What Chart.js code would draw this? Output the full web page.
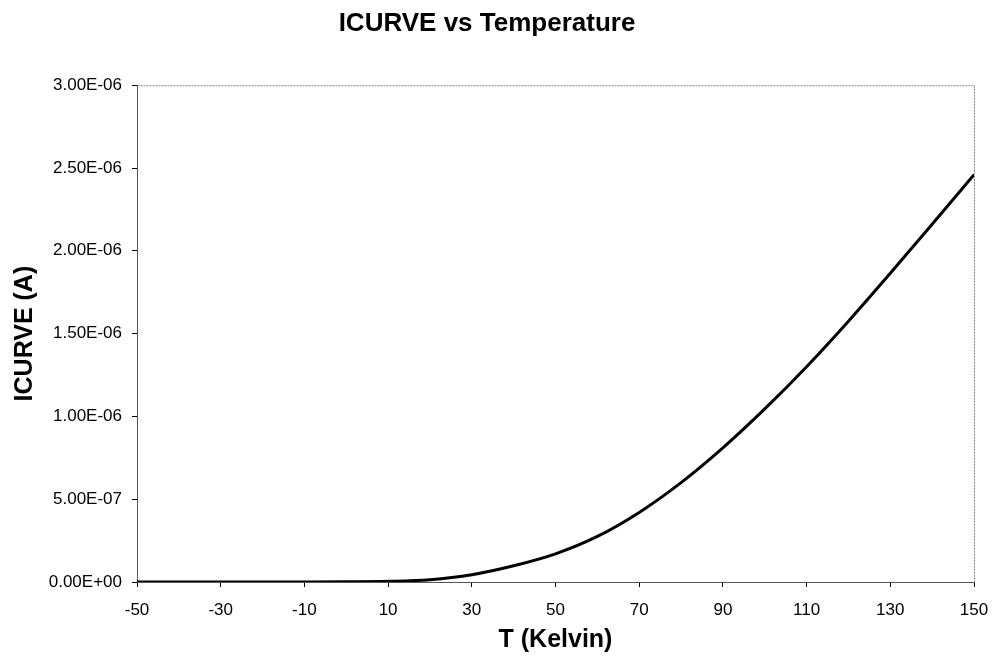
<!DOCTYPE html>
<html>
<head>
<meta charset="utf-8">
<script src="https://cdn.jsdelivr.net/npm/chart.js@4/dist/chart.umd.min.js"></script>
<style>
	html, body { margin: 0; padding: 0; background: #fff; }
	#wrap { width: 997px; height: 663px; }
</style>
</head>
<body>
<div id="wrap"><canvas id="icurveChart"></canvas></div>
<script>
	// temperature (K) and curve current (A)
	var temps = [-50, -40, -30, -20, -10, 0, 10, 20, 30, 40, 50, 60, 70, 80, 90, 100, 110, 120, 130, 140, 150];
	var icurve = [0, 0, 0, 0, 0, 1e-9, 4e-9, 1.4e-8, 4.4e-8, 9.8e-8, 1.7e-7, 2.75e-7, 4.2e-7, 6e-7,
		8.1e-7, 1.045e-6, 1.3e-6, 1.575e-6, 1.865e-6, 2.16e-6, 2.46e-6];

	var xTicks = [-50, -30, -10, 10, 30, 50, 70, 90, 110, 130, 150];
	var yTicks = [0, 5e-7, 1e-6, 1.5e-6, 2e-6, 2.5e-6, 3e-6];

	var points = [];
	for (var i = 0; i < temps.length; i++) {
		points.push({x: temps[i], y: icurve[i]});
	}

	// 3.00E-06 style labels
	function sci(v) {
		var parts = Number(v).toExponential(2).split('e');
		var exp = parseInt(parts[1], 10);
		var sign = exp < 0 ? '-' : '+';
		var digits = String(Math.abs(exp));
		if (digits.length < 2) digits = '0' + digits;
		return parts[0] + 'E' + sign + digits;
	}

	// dotted grey frame round the plot area
	var frame = {
		id: 'frame',
		afterDraw: function(chart) {
			var a = chart.chartArea;
			var c = chart.ctx;
			c.save();
			c.strokeStyle = '#808080';
			c.lineWidth = 1;
			c.setLineDash([2, 1]);
			c.beginPath();
			c.moveTo(a.left + 0.5, a.top + 0.5);
			c.lineTo(a.right + 0.5, a.top + 0.5);
			c.lineTo(a.right + 0.5, a.bottom + 0.5);
			c.stroke();
			c.restore();
		}
	};

	var font = 'Liberation Sans, Arial, sans-serif';

	var ctx = document.getElementById('icurveChart');
	var config = {
		type: 'line',
		data: {
			datasets: [{
				label: 'ICURVE',
				data: points,
				borderColor: '#000',
				borderWidth: 3,
				pointRadius: 0,
				fill: false,
				cubicInterpolationMode: 'monotone'
			}]
		},
		options: {
			responsive: true,
			maintainAspectRatio: false,
			animation: false,
			layout: { padding: { left: 0, right: 23, top: 0, bottom: 0 } },
			plugins: {
				legend: { display: false },
				tooltip: { enabled: false },
				title: {
					display: true,
					text: 'ICURVE vs Temperature',
					color: '#000',
					font: { family: font, size: 26, weight: 'bold' },
					padding: { top: 8, bottom: 46 }
				}
			},
			scales: {
				x: {
					type: 'linear',
					min: -50,
					max: 150,
					afterBuildTicks: function(scale) {
						scale.ticks = xTicks.map(function(v) { return {value: v}; });
					},
					afterFit: function(scale) {
						scale.height = 81;
						scale.paddingLeft = 0;
						scale.paddingRight = 0;
					},
					grid: { display: true, drawOnChartArea: false, drawTicks: true, tickLength: 5, color: '#000' },
					border: { display: true, color: '#555', width: 1 },
					ticks: {
						color: '#000',
						padding: 13,
						maxRotation: 0,
						font: { family: font, size: 17 }
					},
					title: {
						display: true,
						text: 'T (Kelvin)',
						color: '#000',
						font: { family: font, size: 25, weight: 'bold' },
						padding: { top: 0, bottom: 8 }
					}
				},
				y: {
					min: 0,
					max: 3e-6,
					afterBuildTicks: function(scale) {
						scale.ticks = yTicks.map(function(v) { return {value: v}; });
					},
					afterFit: function(scale) { scale.width = 137; },
					grid: { display: true, drawOnChartArea: false, drawTicks: true, tickLength: 5, color: '#000' },
					border: { display: true, color: '#555', width: 1 },
					ticks: {
						color: '#000',
						padding: 10,
						font: { family: font, size: 17 },
						callback: function(v) { return sci(v); }
					},
					title: {
						display: true,
						text: 'ICURVE (A)',
						color: '#000',
						font: { family: font, size: 25, weight: 'bold' },
						padding: { top: 10, bottom: 0 }
					}
				}
			}
		},
		plugins: [frame]
	};
	new Chart(ctx, config);
</script>
</body>
</html>
